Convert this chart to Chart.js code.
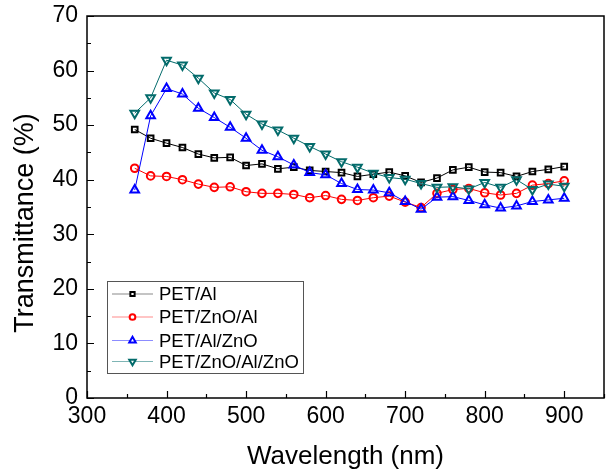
<!DOCTYPE html>
<html>
<head>
<meta charset="utf-8">
<script src="https://cdn.jsdelivr.net/npm/chart.js@4"></script>
<style>
html, body { margin: 0; padding: 0; background: #fff; }
</style>
</head>
<body>
<canvas id="transChart" width="606" height="476"></canvas>
<script>
// wavelength (nm) and transmittance (%)
var wavelength = [360, 380, 400, 420, 440, 460, 480, 500, 520, 540, 560, 580, 600, 620,
                  640, 660, 680, 700, 720, 740, 760, 780, 800, 820, 840, 860, 880, 900];
var petAl = [49.2, 47.6, 46.7, 45.9, 44.7, 44.0, 44.1, 42.6, 42.9, 42.0, 42.3, 41.7, 41.5, 41.3,
             40.6, 41.0, 41.4, 40.7, 39.5, 40.3, 41.8, 42.3, 41.4, 41.3, 40.6, 41.5, 41.9, 42.4];
var petZnoAl = [42.1, 40.7, 40.6, 40.0, 39.2, 38.6, 38.7, 37.8, 37.5, 37.5, 37.3, 36.7, 37.1, 36.4,
                36.2, 36.7, 37.0, 35.9, 34.9, 37.5, 38.2, 38.4, 37.6, 37.2, 37.5, 39.0, 39.3, 39.8];
var petAlZno = [38.1, 51.7, 56.7, 55.7, 53.1, 51.4, 49.6, 47.6, 45.4, 44.2, 42.7, 41.3, 40.9, 39.3,
                38.2, 38.1, 37.6, 36.0, 34.6, 36.8, 36.9, 36.2, 35.4, 34.8, 35.2, 36.0, 36.3, 36.6];
var petZnoAlZno = [52.2, 55.0, 61.9, 61.0, 58.6, 55.9, 54.7, 52.0, 50.2, 49.1, 47.6, 46.1, 44.7, 43.3,
                   42.3, 41.2, 40.4, 40.1, 39.3, 38.6, 38.7, 38.3, 39.5, 38.6, 40.0, 38.2, 39.2, 38.8];

var seriesNames = ['PET/Al', 'PET/ZnO/Al', 'PET/Al/ZnO', 'PET/ZnO/Al/ZnO'];
var seriesValues = [petAl, petZnoAl, petAlZno, petZnoAlZno];
var seriesColors = ['#000000', '#ff0000', '#0000ff', '#036b6b'];
var legendLineColors = ['#8a8a8a', '#ff8c8c', '#8c8cff', '#7fb5b5'];
var markerStyles = ['rect', 'circle', 'triangle', 'triangle'];
var markerRotation = [0, 0, 0, 180];
var markerRadius = [4, 3.8, 5, 5];

var xTicks = [300, 400, 500, 600, 700, 800, 900];
var yTicks = [0, 10, 20, 30, 40, 50, 60, 70];
var xTitle = 'Wavelength (nm)';
var yTitle = 'Transmittance (%)';

var fontFam = 'Arial, "Liberation Sans", sans-serif';

function toPoints(vals) {
  var pts = [];
  for (var i = 0; i < wavelength.length; i++) {
    pts.push({ x: wavelength[i], y: vals[i] });
  }
  return pts;
}

var datasets = [];
for (var s = 0; s < seriesNames.length; s++) {
  datasets.push({
    label: seriesNames[s],
    data: toPoints(seriesValues[s]),
    borderColor: seriesColors[s],
    backgroundColor: 'rgba(0,0,0,0)',
    borderWidth: 1,
    pointStyle: markerStyles[s],
    rotation: markerRotation[s],
    pointRadius: markerRadius[s],
    pointBorderWidth: 2,
    pointBorderColor: seriesColors[s],
    pointBackgroundColor: 'rgba(0,0,0,0)',
    tension: 0,
    order: seriesNames.length - s
  });
}

// box, inward ticks, y title and the legend inside the plot
var decorations = {
  id: 'decorations',
  afterDatasetsDraw: function(chart) {
    var a = chart.chartArea, ctx = chart.ctx;
    var xs = chart.scales.x, ys = chart.scales.y;
    ctx.save();
    ctx.strokeStyle = '#000';
    ctx.lineWidth = 1.5;
    ctx.strokeRect(a.left, a.top, a.right - a.left, a.bottom - a.top);

    ctx.lineWidth = 1.2;
    ctx.beginPath();
    for (var v = 300; v <= 950; v += 50) {
      var px = Math.round(xs.getPixelForValue(v)) + 0.5;
      var len = (v % 100 === 0) ? 7 : 4;
      ctx.moveTo(px, a.bottom);
      ctx.lineTo(px, a.bottom - len);
    }
    for (var w = 0; w <= 70; w += 5) {
      var py = Math.round(ys.getPixelForValue(w)) + 0.5;
      var l2 = (w % 10 === 0) ? 7 : 4;
      ctx.moveTo(a.left, py);
      ctx.lineTo(a.left + l2, py);
    }
    ctx.stroke();

    // y title
    ctx.fillStyle = '#000';
    ctx.font = '27px ' + fontFam;
    ctx.textAlign = 'center';
    ctx.textBaseline = 'middle';
    ctx.translate(26, 223);
    ctx.rotate(-Math.PI / 2);
    ctx.fillText(yTitle, 0, 0);
    ctx.setTransform(1, 0, 0, 1, 0, 0);

    // legend
    var bx = 107, by = 281, bw = 196, bh = 92;
    ctx.fillStyle = '#fff';
    ctx.fillRect(bx, by, bw, bh);
    ctx.strokeStyle = '#555';
    ctx.lineWidth = 1;
    ctx.strokeRect(bx + 0.5, by + 0.5, bw, bh);
    var rows = [294, 317, 340.5, 361.5];
    ctx.font = '18.5px ' + fontFam;
    ctx.textAlign = 'left';
    for (var i = 0; i < chart.data.datasets.length; i++) {
      var ds = chart.data.datasets[i];
      ctx.strokeStyle = legendLineColors[i];
      ctx.lineWidth = 1.2;
      ctx.beginPath();
      ctx.moveTo(112, rows[i]);
      ctx.lineTo(153, rows[i]);
      ctx.stroke();
      ctx.strokeStyle = seriesColors[i];
      ctx.fillStyle = '#fff';
      ctx.lineWidth = 2;
      Chart.helpers.drawPoint(ctx, {
        pointStyle: markerStyles[i],
        radius: markerRadius[i] * 0.75,
        rotation: markerRotation[i],
        borderWidth: 2
      }, 132.5, rows[i]);
      ctx.fillStyle = '#000';
      ctx.fillText(ds.label, 159, rows[i] + 1);
    }
    ctx.restore();
  }
};

var ctx = document.getElementById('transChart').getContext('2d');
var transChart = new Chart(ctx, {
  type: 'line',
  data: { datasets: datasets },
  options: {
    responsive: false,
    animation: false,
    layout: { autoPadding: false, padding: { top: 16, right: 2, left: 0, bottom: 0 } },
    plugins: {
      legend: { display: false },
      tooltip: { enabled: false }
    },
    scales: {
      x: {
        type: 'linear',
        min: 300,
        max: 950,
        afterBuildTicks: function(scale) {
          scale.ticks = xTicks.map(function(v) { return { value: v }; });
        },
        afterFit: function(scale) {
          scale.height = 78;
          scale.paddingLeft = 0;
          scale.paddingRight = 0;
        },
        grid: { display: false, drawTicks: false },
        border: { display: false },
        ticks: {
          color: '#000',
          padding: 5,
          maxRotation: 0,
          font: { family: fontFam, size: 23 }
        },
        title: {
          display: true,
          text: xTitle,
          color: '#000',
          padding: { top: 0, bottom: 4 },
          font: { family: fontFam, size: 26 }
        }
      },
      y: {
        type: 'linear',
        min: 0,
        max: 70,
        afterBuildTicks: function(scale) {
          scale.ticks = yTicks.map(function(v) { return { value: v }; });
        },
        afterFit: function(scale) {
          scale.width = 87;
          scale.paddingTop = 0;
          scale.paddingBottom = 0;
        },
        grid: { display: false, drawTicks: false },
        border: { display: false },
        ticks: {
          color: '#000',
          padding: 9,
          font: { family: fontFam, size: 23 }
        }
      }
    }
  },
  plugins: [decorations]
});
</script>
</body>
</html>
